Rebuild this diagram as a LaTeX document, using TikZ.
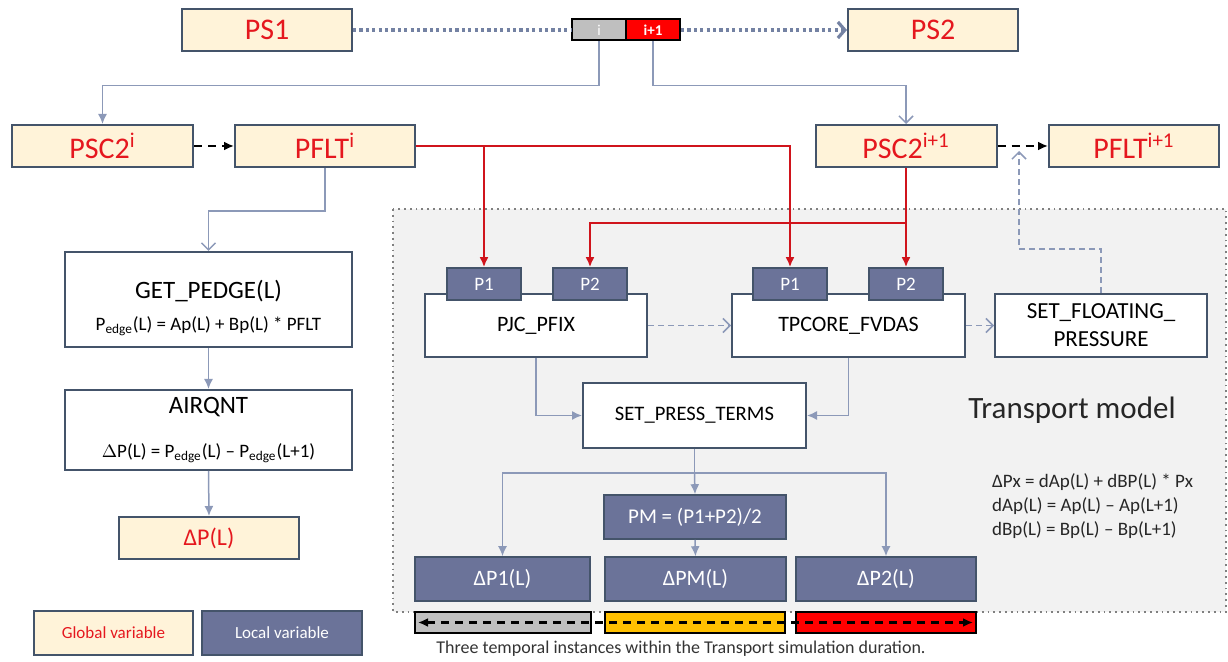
\documentclass[tikz,border=0pt]{standalone}
\usepackage{fontspec}
\setmainfont{Carlito}
\usetikzlibrary{arrows.meta,positioning}
\definecolor{edgec}{HTML}{44546A}
\definecolor{creamc}{HTML}{FFF3D9}
\definecolor{localc}{HTML}{6B7399}
\definecolor{linkc}{HTML}{8C99B8}
\definecolor{sweepc}{HTML}{7482A3}
\definecolor{redc}{HTML}{E5171E}
\definecolor{wirec}{HTML}{D0141C}
\definecolor{zonec}{HTML}{F2F2F2}
\definecolor{amberc}{HTML}{FFC000}

\begin{document}
\begin{tikzpicture}[x=0.5pt, y=-0.5pt,
    gvar/.style={draw=edgec, line width=1pt, fill=creamc, text=redc, inner sep=0pt, font=\fontsize{15}{18}\selectfont},
    lvar/.style={draw=edgec, line width=0.8pt, fill=localc, text=white, inner sep=0pt, font=\fontsize{10.5}{12}\selectfont},
    proc/.style={draw=edgec, line width=1pt, fill=white, inner sep=0pt, align=center, font=\fontsize{11}{13}\selectfont},
    tab/.style={lvar, minimum width=37pt, minimum height=16pt, font=\fontsize{9.5}{11}\selectfont},
    slot/.style={draw=black, line width=1pt, inner sep=0pt, minimum height=10.5pt},
    link/.style={linkc, line width=0.75pt, -{Latex[length=5pt, width=4.5pt]}},
    olink/.style={linkc, line width=0.75pt, -{Straight Barb[length=3.5pt, width=7pt]}},
    dlink/.style={linkc, line width=0.75pt, dash pattern=on 3pt off 2pt, -{Straight Barb[length=3.5pt, width=7pt]}},
    wire/.style={draw=wirec, line width=1pt, -{Latex[length=5pt, width=4.5pt]}},
    hop/.style={black, line width=1.2pt, dash pattern=on 4pt off 3pt},
    sweep/.style={sweepc, line width=1.6pt, dash pattern=on 1.6pt off 1.6pt}
]
\useasboundingbox (0,0) rectangle (1228,662);

\fill[zonec] (393,209) rectangle (1226,612);
\draw[gray, line width=0.9pt, dotted] (393,209) rectangle (1226,612);

\node[gvar, minimum width=85pt, minimum height=21pt] (ps1) at (267,30) {PS1};
\node[gvar, minimum width=85pt, minimum height=21pt] (ps2) at (933,30) {PS2};
\node[slot, fill=black!25, text=white, minimum width=27pt, font=\fontsize{7.5}{9}\selectfont] (bari) at (599,30) {i};
\node[slot, fill=red, text=white, minimum width=27pt, font=\bfseries\fontsize{7.5}{9}\selectfont] (barip) at (653,30) {i+1};

\node[gvar, minimum width=90.5pt, minimum height=21pt] (psci) at (102.5,146) {PSC2\textsuperscript{i}};
\node[gvar, minimum width=90pt, minimum height=21pt] (pflti) at (325,146) {PFLT\textsuperscript{i}};
\node[gvar, minimum width=90.5pt, minimum height=21pt] (pscip) at (906,146) {PSC2\textsuperscript{i+1}};
\node[gvar, minimum width=85pt, minimum height=21pt] (pfltip) at (1134,146) {PFLT\textsuperscript{i+1}};

\node[proc, minimum width=143.5pt, minimum height=47.5pt] (get) at (208.5,299.5) {\rule{0pt}{18pt}{\fontsize{12.5}{15}\selectfont GET\_PEDGE(L)}\\[3pt]{\fontsize{9.5}{11}\selectfont P\textsubscript{edge}(L) = Ap(L) + Bp(L) * PFLT}};
\node[proc, minimum width=143.5pt, minimum height=40pt] (airq) at (208.5,430) {{\fontsize{12.5}{15}\selectfont AIRQNT}\\[9pt]{\fontsize{9.5}{11}\selectfont $\Delta$P(L) = P\textsubscript{edge}(L) -- P\textsubscript{edge}(L+1)}};
\node[gvar, minimum width=90pt, minimum height=21pt, font=\fontsize{12}{14}\selectfont] (dpl) at (209,538) {ΔP(L)};

\node[proc, minimum width=111pt, minimum height=31.5pt] (pjc) at (536,325.5) {PJC\_PFIX};
\node[proc, minimum width=116.5pt, minimum height=31.5pt] (tc) at (848.5,325.5) {TPCORE\_FVDAS};
\node[proc, minimum width=106pt, minimum height=31.5pt, font=\fontsize{11.5}{14}\selectfont] (sfp) at (1101,325.5) {SET\_FLOATING\_\\PRESSURE};
\node[tab] (pjp1) at (484,284) {P1};
\node[tab] (pjp2) at (590,284) {P2};
\node[tab] (tcp1) at (790,284) {P1};
\node[tab] (tcp2) at (906,284) {P2};

\node[proc, minimum width=111.5pt, minimum height=32.5pt, font=\fontsize{10.3}{12}\selectfont] (spt) at (694.5,415.5) {SET\_PRESS\_TERMS};
\node[lvar, minimum width=91pt, minimum height=22pt] (pm) at (695,517) {PM = (P1+P2)/2};
\node[lvar, minimum width=87.5pt, minimum height=22pt, font=\fontsize{11}{13}\selectfont] (dp1) at (502.5,579) {ΔP1(L)};
\node[lvar, minimum width=90.5pt, minimum height=22pt, font=\fontsize{11}{13}\selectfont] (dpm) at (695.5,579) {ΔPM(L)};
\node[lvar, minimum width=90pt, minimum height=22pt, font=\fontsize{11}{13}\selectfont] (dp2) at (886,579) {ΔP2(L)};

\node[slot, fill=black!25, minimum width=88pt] (t1) at (503,622.5) {};
\node[slot, fill=amberc, minimum width=90pt] (t2) at (695,622.5) {};
\node[slot, fill=red, minimum width=90pt] (t3) at (886,622.5) {};
\node[font=\fontsize{9}{11}\selectfont, text=black!80] (cap) at (681,649) {Three temporal instances within the Transport simulation duration.};

\node[font=\fontsize{15.5}{18}\selectfont, text=black!85] (tm) at (1072,410) {Transport model};
\node[anchor=west, align=left, font=\fontsize{9.5}{12}\selectfont, text=black!85] (eqs) at (985,506) {ΔPx = dAp(L) + dBP(L) * Px\\dAp(L) = Ap(L) -- Ap(L+1)\\dBp(L) = Bp(L) -- Bp(L+1)};

\node[gvar, minimum width=79.5pt, minimum height=22pt, font=\fontsize{8.5}{10}\selectfont] (gleg) at (113.5,633) {Global variable};
\node[lvar, minimum width=80pt, minimum height=22pt, font=\fontsize{8.5}{10}\selectfont] (lleg) at (282,633) {Local variable};

\draw[sweep] (ps1.east) -- (bari.west);
\draw[sweep, -{Straight Barb[length=3.5pt, width=8pt]}] (barip.east) -- (ps2.west);
\draw[link] (bari.south) -- ++(0,44) -| (psci.north);
\draw[olink] (barip.south) -- ++(0,44) -| (pscip.north);
\draw[hop, -{Latex[length=5pt, width=4.5pt]}] (psci.east) -- (pflti.west);
\draw[hop, -{Latex[length=5pt, width=4.5pt]}] (pscip.east) -- (pfltip.west);
\coordinate (tap) at (1019,151);
\draw[dlink] (sfp.north) -- ++(0,-44) -| (tap);

\draw[olink] (pflti.south) -- ++(0,43) -| (get.north);
\draw[link] (get.south) -- (airq.north);
\draw[link] (airq.south) -- (dpl.north);

\draw[wire] (pflti.east) -| (tcp1.north);
\draw[wire] (pflti.east -| pjp1.north) -- (pjp1.north);
\draw[wire] (pscip.south) -- (tcp2.north);
\draw[wire] (pscip.south) ++(0,55) -| (pjp2.north);

\draw[dlink] (pjc.east) -- (tc.west);
\draw[dlink] (tc.east) -- (sfp.west);
\draw[link] (pjc.south) |- (spt.west);
\draw[link] (tc.south) |- (spt.east);
\coordinate (fork) at (694.5,473);
\draw[linkc, line width=0.75pt] (spt.south) -- (fork);
\draw[link] (fork) -- (pm.north);
\draw[link] (fork) -| (dp1.north);
\draw[link] (fork) -| (dp2.north);
\draw[link] (pm.south) -- (dpm.north);

\draw[hop, {Latex[length=5pt, width=4.5pt]}-{Latex[length=5pt, width=4.5pt]}, shorten <=2pt, shorten >=2pt] (t1.west) -- (t3.east);
\end{tikzpicture}
\end{document}
